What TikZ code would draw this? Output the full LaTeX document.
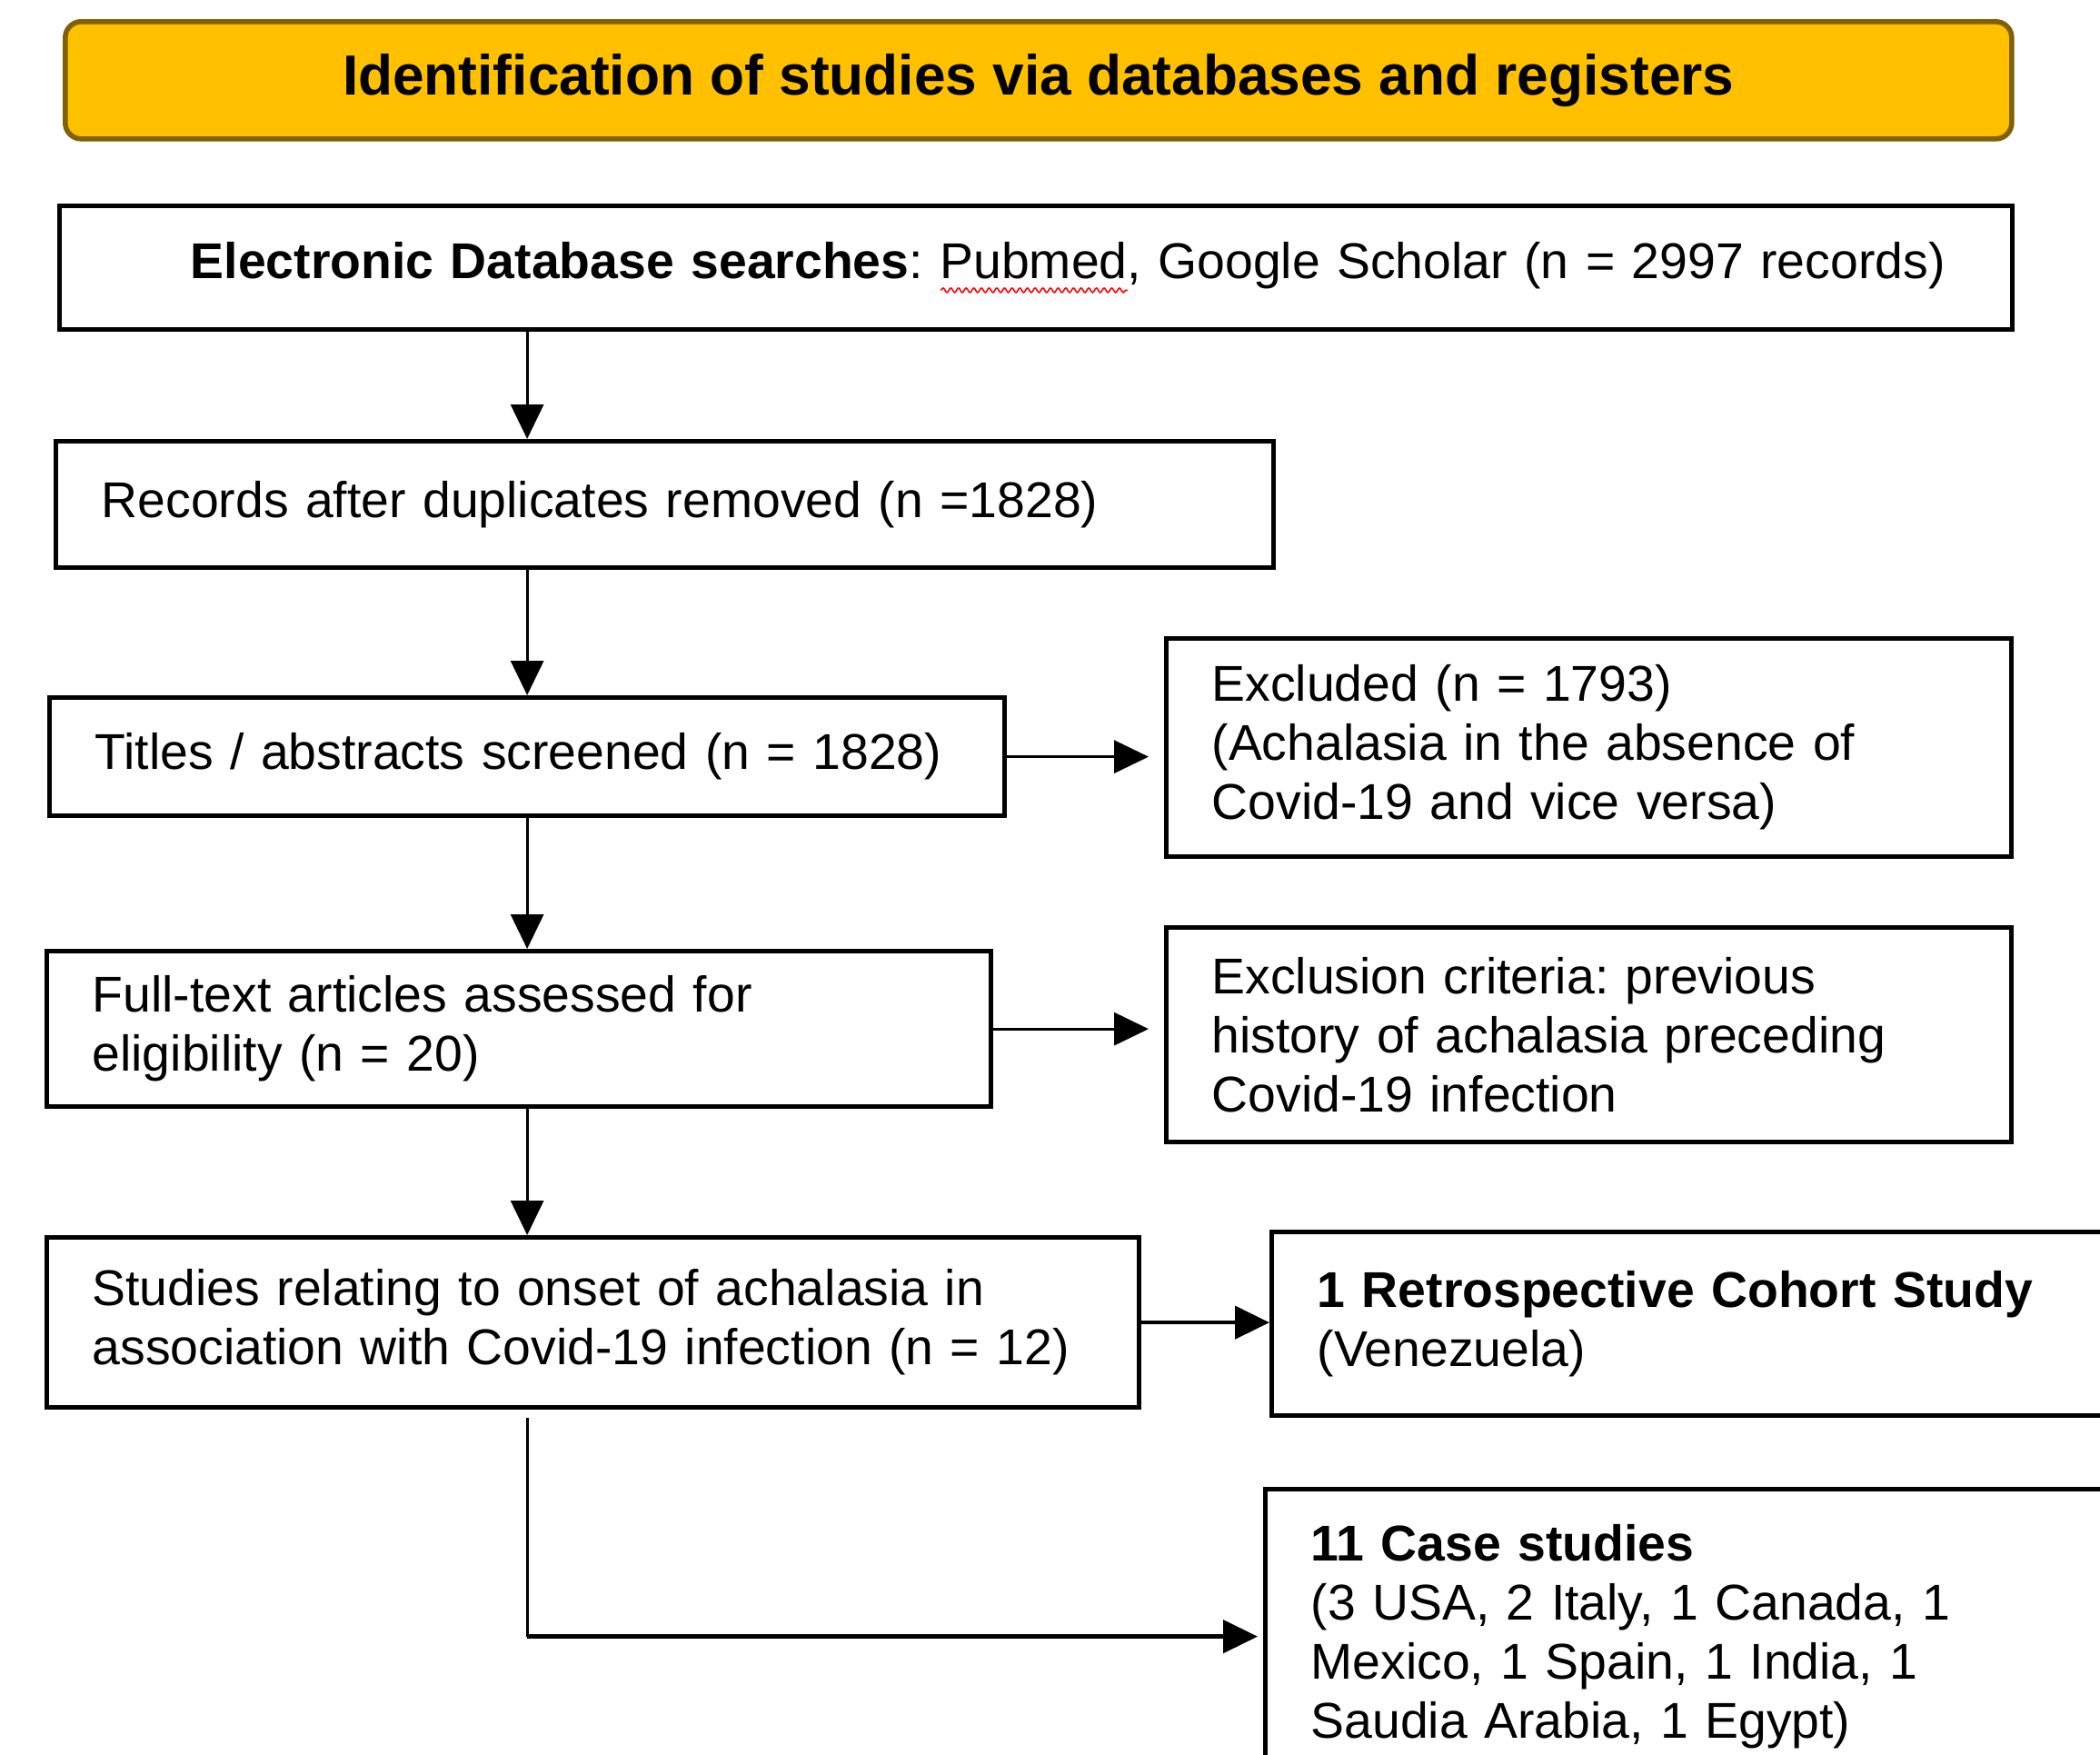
\documentclass[tikz,border=0pt]{standalone}
\usepackage{fontspec}
\setmainfont{Liberation Sans}
\usepackage{xcolor}
\usetikzlibrary{
    arrows.meta,
    positioning,
    calc,
    decorations.pathmorphing
}
\tikzset{
  box/.style  = {draw, line width=1.5pt, anchor=north west, align=left,
                 inner xsep=0.5cm, inner ysep=0pt, font=\boxfont},
  hdr/.style  = {draw=hdrLine, fill=hdrFill, line width=1.6pt,
                 rounded corners=5pt, anchor=north west, inner sep=0pt,
                 font=\hdrfont},
  arr/.style  = {-{Triangle[length=0.38cm, width=0.36cm]}, line width=0.9pt},
  arrb/.style = {arr, line width=1.3pt}
}
\definecolor{hdrFill}{RGB}{255,192,0}
\definecolor{hdrLine}{RGB}{128,96,0}
\newcommand{\boxfont}{\frenchspacing\fontsize{15.75}{18.5}\selectfont}
\newcommand{\hdrfont}{\fontsize{17.7}{20}\selectfont\bfseries}
\newsavebox{\wavebox}
\newcommand{\spellwave}[1]{%
  \sbox{\wavebox}{#1}%
  \rlap{\tikz[baseline=0pt]\draw[red, line width=0.45pt, decorate,
        decoration={snake, amplitude=0.7pt, segment length=2.4pt}]
        (0,-3.6pt) -- (\wd\wavebox,-3.6pt);}%
  \usebox{\wavebox}}

\begin{document}
\begin{tikzpicture}

  \clip (0,0) rectangle (23.11,-19.31);

  %% ── Header ────────────────────────────────────────────────────
  \node[hdr, minimum width=21.42cm, minimum height=1.29cm] (head) at (0.69,-0.21)
    {Identification of studies via databases and registers};

  %% ── Main column ───────────────────────────────────────────────
  \node[box, align=right, inner xsep=0.74cm, text width=20.01cm,
        minimum height=1.36cm] (search) at (0.63,-2.24)
    {\textbf{Electronic Database searches}: \spellwave{Pubmed}, Google Scholar (n = 2997 records)};
  \node[box, text width=12.40cm, minimum height=1.39cm] (dedup) at (0.59,-4.83)
    {Records after duplicates removed (n =1828)};
  \node[box, text width=9.51cm, minimum height=1.30cm] (screen) at (0.52,-7.65)
    {Titles / abstracts screened (n = 1828)};
  \node[box, text width=9.39cm, minimum height=1.71cm] (fulltext) at (0.49,-10.44)
    {Full-text articles assessed for\\eligibility (n = 20)};
  \node[box, text width=11.02cm, minimum height=1.87cm] (studies) at (0.49,-13.59)
    {Studies relating to onset of achalasia in\\association with Covid-19 infection (n = 12)};

  %% ── Side boxes ────────────────────────────────────────────────
  \node[box, text width=8.30cm, minimum height=2.40cm] (excl) at (12.81,-7.00)
    {Excluded (n = 1793)\\(Achalasia in the absence of\\Covid-19 and vice versa)};
  \node[box, text width=8.30cm, minimum height=2.36cm] (crit) at (12.81,-10.18)
    {Exclusion criteria: previous\\history of achalasia preceding\\Covid-19 infection};
  \node[box, text width=9.50cm, minimum height=2.02cm] (retro) at (13.97,-13.53)
    {\textbf{1 Retrospective Cohort Study}\\(Venezuela)};
  \node[box, text width=9.50cm, minimum height=3.24cm] (cases) at (13.90,-16.36)
    {\textbf{11 Case studies}\\(3 USA, 2 Italy, 1 Canada, 1\\Mexico, 1 Spain, 1 India, 1\\Saudia Arabia, 1 Egypt)};

  %% ── Downward arrows ───────────────────────────────────────────
  \draw[arr] (search.south -| screen) -- (dedup.north -| screen);
  \draw[arr] (dedup.south -| screen) -- (screen.north);
  \draw[arr] (screen.south) -- (fulltext.north -| screen);
  \draw[arr] (fulltext.south -| screen) -- (studies.north -| screen);

  %% ── Sideways arrows ───────────────────────────────────────────
  \draw[arr, shorten >=0.17cm] (screen.east) -- (screen.east -| excl.west);
  \draw[arr, shorten >=0.17cm] (fulltext.east) -- (fulltext.east -| crit.west);
  \draw[arrb] (studies.east) -- (studies.east -| retro.west);

  % studies -> case studies (elbow)
  \coordinate (bend) at (screen |- cases.west);
  \draw[line width=0.9pt, shorten <=0.09cm] (studies.south -| screen) -- (bend);
  \draw[arrb, shorten >=0.06cm] (bend) -- (cases.west);

\end{tikzpicture}
\end{document}
